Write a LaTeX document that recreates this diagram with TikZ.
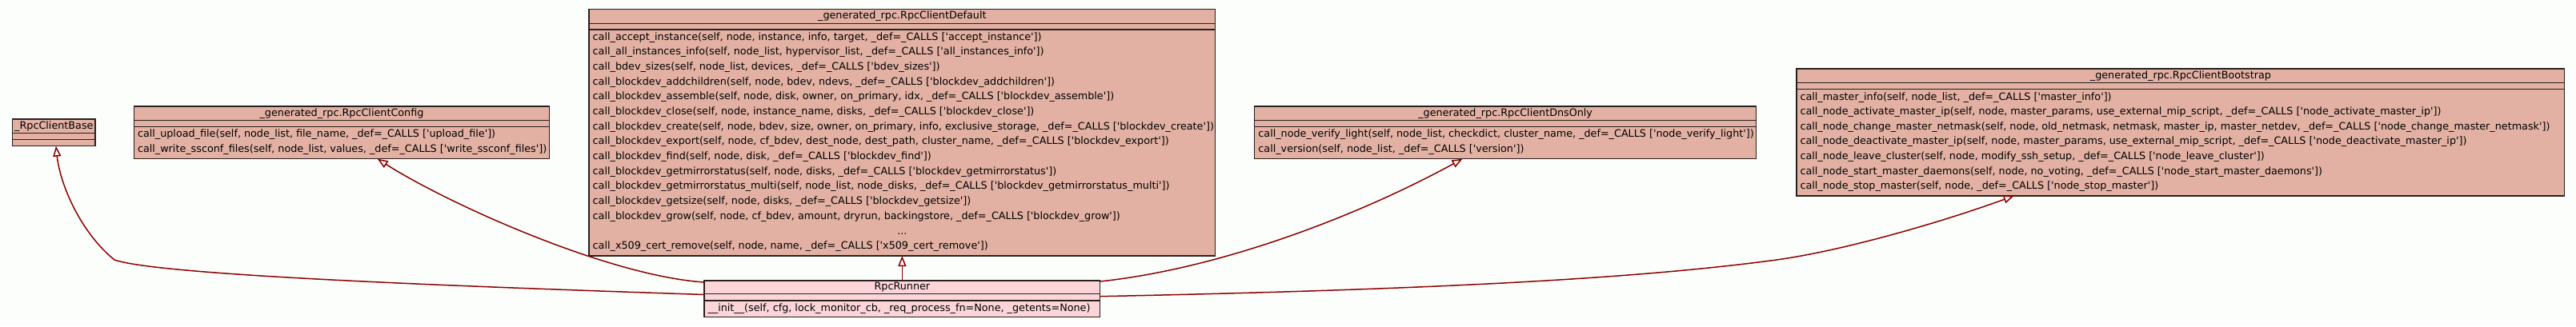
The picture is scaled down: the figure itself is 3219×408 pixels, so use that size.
\documentclass[tikz,border=0pt]{standalone}
\usepackage{fontspec}
\setmainfont{DejaVu Sans}
\usetikzlibrary{arrows.meta,calc}
\definecolor{bgc}{RGB}{252,254,252}
\definecolor{boxfill}{RGB}{226,177,163}
\definecolor{runfill}{RGB}{252,213,216}
\definecolor{boxline}{RGB}{40,32,30}
\definecolor{edgecol}{RGB}{139,0,0}
\newcommand\qt{\textquotesingle}
\newcommand\umlseps[3]{%
  \draw[sepline] ($(#1.north west)+(0,#2)$) -- ($(#1.north east)+(0,#2)$);
  \draw[sepline] ($(#1.north west)+(0,#3)$) -- ($(#1.north east)+(0,#3)$);}
\tikzset{
  classbox/.style={draw=boxline, line width=1.3pt, fill=boxfill, inner sep=0pt, outer sep=0pt, anchor=north west},
  runbox/.style={classbox, fill=runfill},
  sepline/.style={draw=boxline, line width=1.3pt},
  umltext/.style={inner sep=0pt, font=\fontsize{12.75}{15}\selectfont, text height=9.6pt, text depth=2.9pt},
  meth/.style={umltext, anchor=west},
  inherit/.style={draw=edgecol, line width=1.5pt, -{Triangle[open,length=13pt,width=10pt]}}
}
\begin{document}
\begin{tikzpicture}[x=1pt,y=-1pt]
\fill[bgc] (0,0) rectangle (3219,408);
\useasboundingbox (0,0) rectangle (3219,408);

% _RpcClientBase
\node[classbox, minimum width=103.3pt, minimum height=33.7pt] (base) at (15.7,149) {};
\umlseps{base}{17.3}{25.3}
\node[umltext] (baseT) at (67.35,157.8) {\_RpcClientBase};

% RpcClientConfig
\node[classbox, minimum width=519.4pt, minimum height=65.7pt] (config) at (167.3,133) {};
\umlseps{config}{17.6}{25.8}
\node[umltext] (configT) at (427,141.8) {\_generated\_rpc.RpcClientConfig};
\node[meth] (config0) at (171.8,168) {call\_upload\_file(self, node\_list, file\_name, \_def=\_CALLS [\qt upload\_file\qt])};
\node[meth] (config1) at (171.8,187) {call\_write\_ssconf\_files(self, node\_list, values, \_def=\_CALLS [\qt write\_ssconf\_files\qt])};

% RpcClientDefault
\node[classbox, minimum width=782.7pt, minimum height=308.3pt] (default) at (736,11.7) {};
\umlseps{default}{17.6}{25.2}
\node[umltext] (defaultT) at (1127.35,20.5) {\_generated\_rpc.RpcClientDefault};
\foreach \t [count=\i from 0] in {
 {call\_accept\_instance(self, node, instance, info, target, \_def=\_CALLS [\qt accept\_instance\qt])},
 {call\_all\_instances\_info(self, node\_list, hypervisor\_list, \_def=\_CALLS [\qt all\_instances\_info\qt])},
 {call\_bdev\_sizes(self, node\_list, devices, \_def=\_CALLS [\qt bdev\_sizes\qt])},
 {call\_blockdev\_addchildren(self, node, bdev, ndevs, \_def=\_CALLS [\qt blockdev\_addchildren\qt])},
 {call\_blockdev\_assemble(self, node, disk, owner, on\_primary, idx, \_def=\_CALLS [\qt blockdev\_assemble\qt])},
 {call\_blockdev\_close(self, node, instance\_name, disks, \_def=\_CALLS [\qt blockdev\_close\qt])},
 {call\_blockdev\_create(self, node, bdev, size, owner, on\_primary, info, exclusive\_storage, \_def=\_CALLS [\qt blockdev\_create\qt])},
 {call\_blockdev\_export(self, node, cf\_bdev, dest\_node, dest\_path, cluster\_name, \_def=\_CALLS [\qt blockdev\_export\qt])},
 {call\_blockdev\_find(self, node, disk, \_def=\_CALLS [\qt blockdev\_find\qt])},
 {call\_blockdev\_getmirrorstatus(self, node, disks, \_def=\_CALLS [\qt blockdev\_getmirrorstatus\qt])},
 {call\_blockdev\_getmirrorstatus\_multi(self, node\_list, node\_disks, \_def=\_CALLS [\qt blockdev\_getmirrorstatus\_multi\qt])},
 {call\_blockdev\_getsize(self, node, disks, \_def=\_CALLS [\qt blockdev\_getsize\qt])},
 {call\_blockdev\_grow(self, node, cf\_bdev, amount, dryrun, backingstore, \_def=\_CALLS [\qt blockdev\_grow\qt])}}
 \node[meth] (default\i) at (740.5,46.7+18.69*\i) {\t};
\node[umltext] (defaultDots) at (1127.35,289.65) {...};
\node[meth] (default14) at (740.5,308.4) {call\_x509\_cert\_remove(self, node, name, \_def=\_CALLS [\qt x509\_cert\_remove\qt])};

% RpcRunner
\node[runbox, minimum width=494.7pt, minimum height=45.7pt] (runner) at (880,351) {};
\umlseps{runner}{16.7}{25}
\node[umltext] (runnerT) at (1127.35,359.4) {RpcRunner};
\node[meth] (runner0) at (884.3,386) {\_\_init\_\_(self, cfg, lock\_monitor\_cb, \_req\_process\_fn=None, \_getents=None)};

% RpcClientDnsOnly
\node[classbox, minimum width=626.9pt, minimum height=65.7pt] (dns) at (1567.7,133) {};
\umlseps{dns}{17.6}{25.6}
\node[umltext] (dnsT) at (1881.15,141.8) {\_generated\_rpc.RpcClientDnsOnly};
\node[meth] (dns0) at (1572.2,168) {call\_node\_verify\_light(self, node\_list, checkdict, cluster\_name, \_def=\_CALLS [\qt node\_verify\_light\qt])};
\node[meth] (dns1) at (1572.2,187) {call\_version(self, node\_list, \_def=\_CALLS [\qt version\qt])};

% RpcClientBootstrap
\node[classbox, minimum width=959.8pt, minimum height=159pt] (boot) at (2245,86) {};
\umlseps{boot}{17.7}{25.7}
\node[umltext] (bootT) at (2724.9,94.8) {\_generated\_rpc.RpcClientBootstrap};
\foreach \t [count=\i from 0] in {
 {call\_master\_info(self, node\_list, \_def=\_CALLS [\qt master\_info\qt])},
 {call\_node\_activate\_master\_ip(self, node, master\_params, use\_external\_mip\_script, \_def=\_CALLS [\qt node\_activate\_master\_ip\qt])},
 {call\_node\_change\_master\_netmask(self, node, old\_netmask, netmask, master\_ip, master\_netdev, \_def=\_CALLS [\qt node\_change\_master\_netmask\qt])},
 {call\_node\_deactivate\_master\_ip(self, node, master\_params, use\_external\_mip\_script, \_def=\_CALLS [\qt node\_deactivate\_master\_ip\qt])},
 {call\_node\_leave\_cluster(self, node, modify\_ssh\_setup, \_def=\_CALLS [\qt node\_leave\_cluster\qt])},
 {call\_node\_start\_master\_daemons(self, node, no\_voting, \_def=\_CALLS [\qt node\_start\_master\_daemons\qt])},
 {call\_node\_stop\_master(self, node, \_def=\_CALLS [\qt node\_stop\_master\qt])}}
 \node[meth] (boot\i) at (2249.3,121.7+18.6*\i) {\t};

% inheritance edges
\draw[inherit] ([yshift=-17.5pt]runner.north west) .. controls (600,359) and (200,345) .. (143,325)
   .. controls (100,290) and (75,230) .. ([xshift=2.6pt]base.south);
\draw[inherit] ([yshift=-2pt]runner.north west) .. controls (760,345) and (560,255) .. ([xshift=44.7pt]config.south);
\draw[inherit] (runner.north) -- (default.south);
\draw[inherit] ([yshift=-1pt]runner.north east) .. controls (1525,336) and (1697.5,269.8) .. ([xshift=-53.65pt]dns.south);
\draw[inherit] ([yshift=-19.7pt]runner.north east) .. controls (1800,362) and (2050,348) .. (2220,325)
   .. controls (2300,314) and (2420,280) .. ([xshift=-208.2pt]boot.south);
\end{tikzpicture}
\end{document}
